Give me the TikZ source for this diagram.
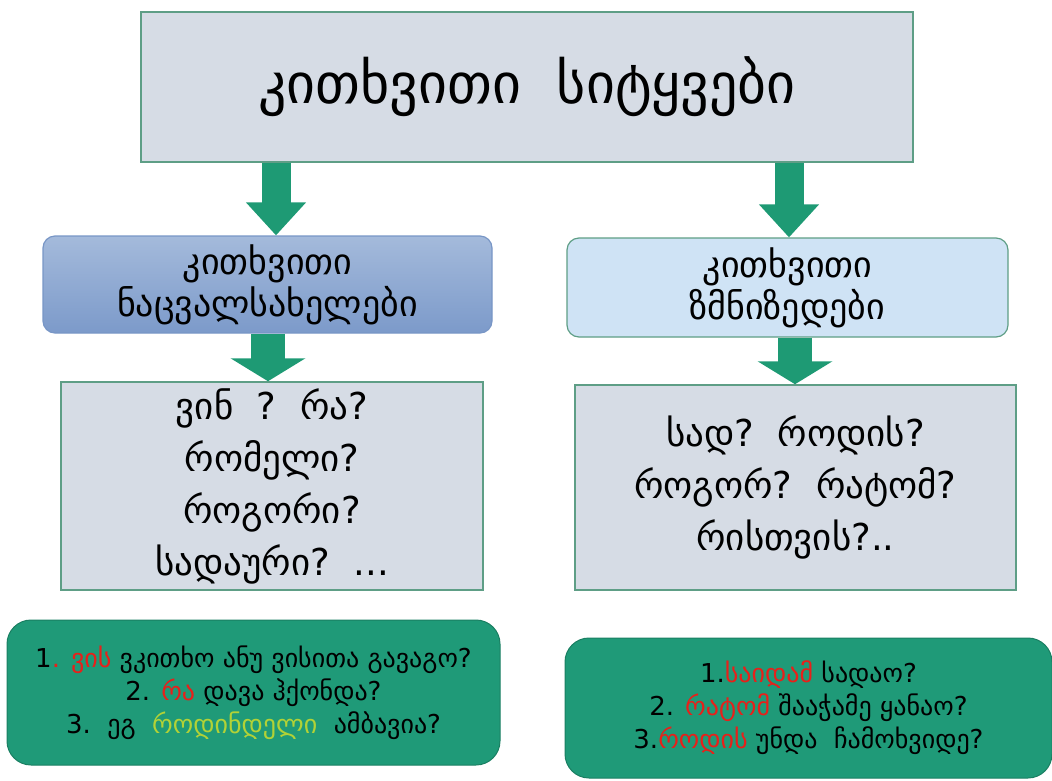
\documentclass[tikz,border=0pt]{standalone}
\usepackage{fontspec}
\setmainfont{DejaVu Sans}
\usetikzlibrary{arrows.meta,calc}
\definecolor{boxgrey}{HTML}{D6DCE5}
\definecolor{boxedge}{HTML}{5E9E86}
\definecolor{arrgreen}{HTML}{1E9A74}
\definecolor{greenbox}{HTML}{1F9A78}
\definecolor{greenedge}{HTML}{1A7F62}
\definecolor{bluetop}{HTML}{A4BADB}
\definecolor{bluebot}{HTML}{7C9ACA}
\definecolor{blueedge}{HTML}{7896C6}
\definecolor{lightblue}{HTML}{CFE3F5}
\definecolor{qred}{HTML}{E8201A}
\definecolor{qyellow}{HTML}{B2D236}
\tikzset{
  greybox/.style={draw=boxedge,line width=1.5pt,fill=boxgrey,align=center,inner sep=0pt},
  midbox/.style={rounded corners=12pt,line width=1.2pt,align=center,inner sep=0pt,font=\fontsize{36}{42}\selectfont},
  listtxt/.style={font=\fontsize{37}{52}\selectfont},
  greenbx/.style={draw=greenedge,line width=1pt,fill=greenbox,rounded corners=24pt,align=center,inner sep=0pt,font=\fontsize{26}{33}\selectfont},
  arrA/.style={draw=arrgreen,line width=29pt,-{Triangle[width=58pt,length=33pt]}},
  arrB/.style={draw=arrgreen,line width=34pt,-{Triangle[width=74pt,length=23pt]}},
}
\begin{document}
\begin{tikzpicture}[x=1pt,y=-1pt]
\useasboundingbox (0,0) rectangle (1052,780);
% title
\node[greybox,minimum width=772pt,minimum height=150pt,font=\fontsize{56}{60}\selectfont] (title) at (527,87)
  {კითხვითი\ \ სიტყვები};
% middle boxes
\node[midbox,draw=blueedge,top color=bluetop,bottom color=bluebot,minimum width=449pt,minimum height=97pt] (lmid) at (267.5,284.5)
  {კითხვითი\\ნაცვალსახელები};
\node[midbox,draw=boxedge,fill=lightblue,minimum width=441pt,minimum height=99pt] (rmid) at (787.5,287.5)
  {კითხვითი\\ზმნიზედები};
% list boxes
\node[greybox,listtxt,minimum width=422pt,minimum height=208pt] (llist) at (272,486)
  {ვინ\ \ ?\ \ რა?\\რომელი?\\როგორი?\\სადაური?\ \ ...};
\node[greybox,listtxt,minimum width=441pt,minimum height=205pt] (rlist) at (795.5,487.5)
  {სად?\ \ როდის?\\როგორ?\ \ რატომ?\\რისთვის?..};
% green boxes
\node[greenbx,minimum width=493pt,minimum height=145pt] (lgreen) at (253.5,692.5)
  {1\textcolor{qred}{. ვის} ვკითხო ანუ ვისითა გავაგო?\\2. \textcolor{qred}{რა} დავა ჰქონდა?\\3.\ \ ეგ\ \ \textcolor{qyellow}{როდინდელი}\ \ ამბავია?};
\node[greenbx,minimum width=487pt,minimum height=140pt] (rgreen) at (808.5,708)
  {1.\textcolor{qred}{საიდამ} სადაო?\\2. \textcolor{qred}{რატომ} შააჭამე ყანაო?\\3.\textcolor{qred}{როდის} უნდა\ \ ჩამოხვიდე?};
% arrows
\coordinate (xa) at (276,0);
\coordinate (xb) at (789,0);
\coordinate (xc) at (268,0);
\coordinate (xd) at (795,0);
\draw[arrA] (title.south -| xa) -- (lmid.north -| xa);
\draw[arrA] (title.south -| xb) -- (rmid.north -| xb);
\draw[arrB] (lmid.south -| xc) -- (llist.north -| xc);
\draw[arrB] (rmid.south -| xd) -- (rlist.north -| xd);
\end{tikzpicture}
\end{document}
